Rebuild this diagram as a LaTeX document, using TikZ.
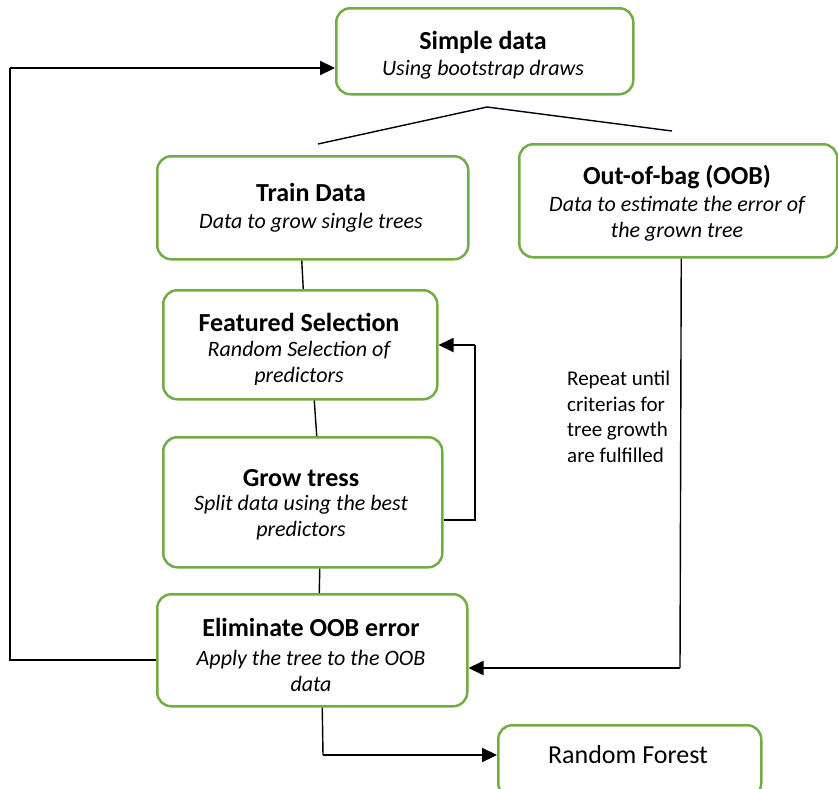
\documentclass[tikz,border=0pt]{standalone}
\usepackage{fontspec}
\setmainfont{Carlito}
\usetikzlibrary{arrows.meta}
\definecolor{boxgreen}{RGB}{112,173,71}
\tikzset{
  box/.style={draw=boxgreen, line width=2.5pt, rounded corners=14pt, fill=white,
    anchor=north west, inner sep=0pt},
  ttl/.style={font=\fontsize{26}{30}\selectfont\bfseries, inner sep=0pt},
  sub/.style={font=\fontsize{22}{26}\selectfont\itshape, align=center, inner sep=0pt},
  note/.style={font=\fontsize{21}{25.5}\selectfont, align=left, anchor=north west, inner sep=0pt},
  conn/.style={line width=1.4pt},
  thick conn/.style={line width=2.2pt},
  arr/.style={line width=2.2pt, -{Triangle[length=15pt,width=14pt]}},
  thin arr/.style={line width=1.8pt, -{Triangle[length=15pt,width=14pt]}},
}
\begin{document}
\begin{tikzpicture}[x=1pt,y=-1pt]
\useasboundingbox (0,0) rectangle (838,788);

% boxes
\node[box, minimum width=297pt, minimum height=86pt]  (sd)  at (335,7)   {};
\node[box, minimum width=311pt, minimum height=103pt] (td)  at (156,155) {};
\node[box, minimum width=318pt, minimum height=113pt] (oob) at (518,143) {};
\node[box, minimum width=274pt, minimum height=109pt] (fs)  at (162,289) {};
\node[box, minimum width=279pt, minimum height=130pt] (gt)  at (162,436) {};
\node[box, minimum width=310pt, minimum height=112pt] (el)  at (156,593) {};
\node[box, minimum width=263pt, minimum height=72pt]  (rf)  at (497,724) {};

% box texts
\node[ttl] (sdt) at (483,42) {Simple data};
\begin{scope}
  \clip (0,0) rectangle (838,80);
  \node[sub] (sds) at (483,70) {Using bootstrap draws};
\end{scope}
\node[ttl] (tdt) at (311,192) {Train Data};
\node[sub] (tds) at (311,223) {Data to grow single trees};
\node[ttl] (oobt) at (677,177) {Out-of-bag (OOB)};
\begin{scope}
  \clip (0,0) rectangle (838,242);
  \node[sub] (oobs) at (677,218.5) {Data to estimate the error of\\the grown tree};
\end{scope}
\node[ttl] (fst) at (299,322) {Featured Selection};
\begin{scope}
  \clip (0,0) rectangle (838,384);
  \node[sub] (fss) at (299,363.5) {Random Selection of\\predictors};
\end{scope}
\node[ttl] (gtt) at (301,478) {Grow tress};
\node[sub] (gts) at (301,517.5) {Split data using the best\\predictors};
\node[ttl] (elt) at (311,627) {Eliminate OOB error};
\node[sub] (els) at (311,670.5) {Apply the tree to the OOB\\data};
\node[font=\fontsize{26}{30}\selectfont, inner sep=0pt] (rft) at (628,755) {Random Forest};
\node[note] (rep) at (567,371) {Repeat until\\criterias for\\tree growth\\are fulfilled};

% split of the sample
\coordinate (fork) at (487,107);
\coordinate (forkl) at (318,144);
\coordinate (forkr) at (672,131);
\draw[conn] (forkl) -- (fork) -- (forkr);

% main chain
\draw[conn] ([xshift=-11pt]td.south) -- ([xshift=3pt]fs.north);
\draw[conn] ([xshift=14pt]fs.north |- fs.south) -- ([xshift=14pt]gt.north);
\draw[conn] ([xshift=17pt]gt.south) -- ([xshift=7pt]el.north);

% repeat loop back to feature selection
\coordinate (lp1) at (475,520);
\coordinate (lp2) at (475,345);
\draw[conn] (gt.east |- lp1) -- (lp1) -- (lp2);
\draw[thin arr] (lp2) -- (fs.east |- lp2);

% out-of-bag data to error estimation
\coordinate (ob1) at (680,668);
\draw[conn] ([xshift=3pt]oob.south) -- (ob1);
\draw[arr] (ob1) -- (el.east |- ob1);

% loop back to sampling
\coordinate (lb1) at (10,660);
\coordinate (lb2) at (10,68);
\draw[thick conn] (el.west |- lb1) -- (lb1) -- (lb2);
\draw[arr] (lb2) -- (sd.west |- lb2);

% final forest
\coordinate (rf1) at (323,755);
\draw[conn] ([xshift=10pt]el.south) -- (rf1);
\draw[arr] (rf1) -- (rf.west |- rf1);
\end{tikzpicture}
\end{document}
